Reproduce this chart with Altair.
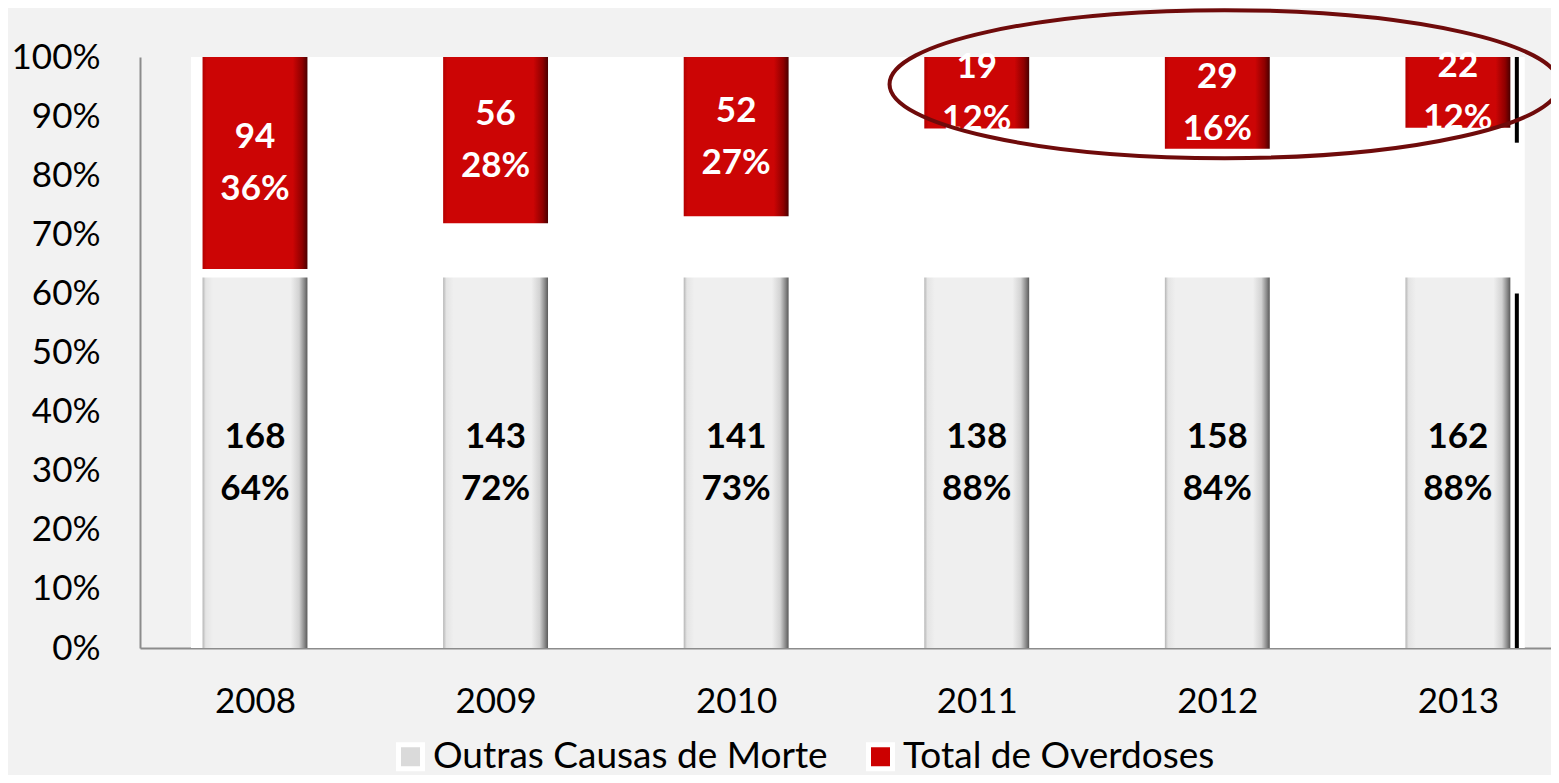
import altair as alt
import pandas as pd

# ---------------- data ----------------
years = [2008, 2009, 2010, 2011, 2012, 2013]
outras = [168, 143, 141, 138, 158, 162]          # Outras Causas de Morte
overdoses = [94, 56, 52, 19, 29, 22]             # Total de Overdoses
series_names = ["Outras Causas de Morte", "Total de Overdoses"]
y_ticks = [0, 0.1, 0.2, 0.3, 0.4, 0.5, 0.6, 0.7, 0.8, 0.9, 1.0]

# highlight ellipse centre (year, share) around 2011-2013
ellipse_year = [2012.03]
ellipse_share = [0.954]

# dark shadow strip on the right of the 2013 bar (share ranges)
shadow_lo = [0.0, 0.855]
shadow_hi = [0.60, 1.0]

df = pd.DataFrame({"ano": years, "outras": outras, "overdoses": overdoses})
panel = pd.DataFrame({"a": [2007.734], "b": [2013.278], "lo": [0.0], "hi": [1.0]})
ell = pd.DataFrame({"ano": ellipse_year, "share": ellipse_share})
shadow = pd.DataFrame({"ano": [years[-1]] * 2, "lo": shadow_lo, "hi": shadow_hi})
leg = pd.DataFrame({"serie": series_names})

X_DOMAIN = [2007.522, 2013.387]
CUT = 0.627          # grey bars are only visible up to here (white mask above)
HALF = 0.218         # half bar width, in years
FONT = "Lato"

xs = alt.Scale(domain=X_DOMAIN, nice=False, zero=False)
ys = alt.Scale(domain=[0, 1], nice=False)

grey_grad = alt.LinearGradient(
    gradient="linear", x1=0, x2=1, y1=0, y2=0,
    stops=[alt.GradientStop(color="#b5b5b5", offset=0),
           alt.GradientStop(color="#e4e4e4", offset=0.03),
           alt.GradientStop(color="#efefef", offset=0.1),
           alt.GradientStop(color="#efefef", offset=0.84),
           alt.GradientStop(color="#d2d2d2", offset=0.92),
           alt.GradientStop(color="#8a8a8a", offset=0.97),
           alt.GradientStop(color="#5a5a5a", offset=1)])
red_grad = alt.LinearGradient(
    gradient="linear", x1=0, x2=1, y1=0, y2=0,
    stops=[alt.GradientStop(color="#b30000", offset=0),
           alt.GradientStop(color="#cc0505", offset=0.04),
           alt.GradientStop(color="#cc0505", offset=0.86),
           alt.GradientStop(color="#8e0000", offset=0.95),
           alt.GradientStop(color="#4a0000", offset=1)])

x_axis = alt.Axis(values=years, format="d", title=None, grid=False, ticks=False,
                  labelFont=FONT, labelFontSize=35, labelColor="black",
                  labelPadding=36, domainColor="#8c8c8c", domainWidth=2,
                  labelOverlap=False, labelFlush=False)
y_axis = alt.Axis(values=y_ticks, format=".0%", title=None, grid=False, ticks=False,
                  labelFont=FONT, labelFontSize=35, labelColor="black",
                  labelPadding=40, domainColor="#8c8c8c", domainWidth=2,
                  labelOverlap=False)


def X(field):
    return alt.X(field, scale=xs, axis=x_axis)


def Y(field):
    return alt.Y(field, scale=ys, axis=y_axis)


base = alt.Chart(df).transform_calculate(
    tot="datum.outras + datum.overdoses",
).transform_calculate(
    p_out="datum.outras / datum.tot",
    p_ov="datum.overdoses / datum.tot",
    x0=f"datum.ano - {HALF}",
    x1=f"datum.ano + {HALF}",
).transform_calculate(
    g_top=f"min(datum.p_out, {CUT})",
    g_mid=f"{CUT} / 2",
    r_mid="(1 + datum.p_out) / 2",
    one="1",
    zero="0",
    out_lbl="format(datum.p_out, '.0%')",
    ov_lbl="format(datum.p_ov, '.0%')",
)

panel_layer = alt.Chart(panel).mark_rect(color="white").encode(
    x=X("a:Q"), x2="b:Q", y=Y("lo:Q"), y2="hi:Q",
)

grey_bars = base.mark_rect(color=grey_grad).encode(
    x=X("x0:Q"), x2="x1:Q", y=Y("zero:Q"), y2="g_top:Q",
)
red_bars = base.mark_rect(color=red_grad).encode(
    x=X("x0:Q"), x2="x1:Q", y=Y("p_out:Q"), y2="one:Q",
)

shadow_layer = alt.Chart(shadow).transform_calculate(
    xs_=f"datum.ano + {HALF} + 0.027"
).mark_rule(color="black", strokeWidth=4).encode(
    x=X("xs_:Q"), y=Y("lo:Q"), y2="hi:Q",
)


def lbl(field, yfield, color, dy):
    return base.mark_text(font=FONT, fontWeight="bold", fontSize=35,
                          color=color, dy=dy).encode(
        x=X("ano:Q"), y=Y(f"{yfield}:Q"), text=field,
    )


g_cnt = lbl("outras:Q", "g_mid", "black", -26)
g_pct = lbl("out_lbl:N", "g_mid", "black", 26)
r_cnt = lbl("overdoses:Q", "r_mid", "white", -26)
r_pct = lbl("ov_lbl:N", "r_mid", "white", 26)

ELLIPSE = "M -1 0 A 1 0.221 0 1 1 1 0 A 1 0.221 0 1 1 -1 0 Z"
ellipse = alt.Chart(ell).mark_point(
    shape=ELLIPSE, size=670 * 670, filled=False, color="#6f0b0b",
    strokeWidth=4, opacity=1,
).encode(
    x=X("ano:Q"), y=Y("share:Q"),
)

legend_layer = alt.Chart(leg).mark_square(size=576, opacity=1).encode(
    color=alt.Color("serie:N",
                    scale=alt.Scale(domain=series_names, range=["#dadada", "#cc0000"]),
                    legend=alt.Legend(orient="none", legendX=252, legendY=681,
                                      direction="horizontal", title=None,
                                      symbolType="square", symbolSize=576,
                                      symbolStrokeColor="white", symbolStrokeWidth=5,
                                      labelFont=FONT, labelFontSize=37,
                                      labelColor="black", labelLimit=800,
                                      labelOffset=4, columnPadding=30, padding=0)),
).transform_filter("false")

chart = alt.layer(
    panel_layer, grey_bars, red_bars, shadow_layer,
    g_cnt, g_pct, r_cnt, r_pct, ellipse, legend_layer
).properties(
    width=1411, height=591,
    autosize=alt.AutoSizeParams(type="none"),
    padding={"left": 132, "top": 49, "right": 0, "bottom": 127},
    background="#f2f2f2",
).configure_view(stroke=None)

chart.save("out.html", embed_options={"renderer": "svg", "actions": False})
